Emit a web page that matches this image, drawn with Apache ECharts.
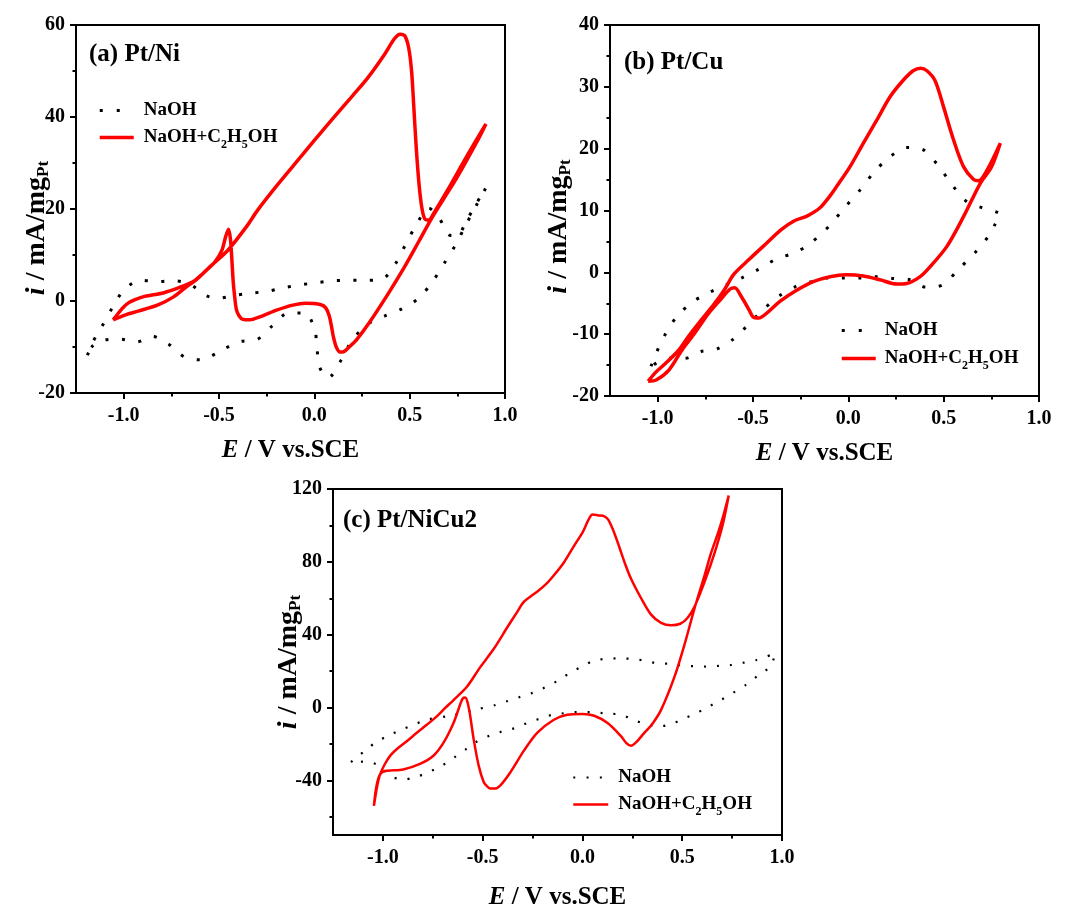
<!DOCTYPE html>
<html><head><meta charset="utf-8">
<script src="https://cdn.jsdelivr.net/npm/echarts@6/dist/echarts.min.js"></script>
<style>html,body{margin:0;padding:0;background:#fff}#c{width:1071px;height:911px}</style>
</head><body><div id="c"></div>
<script>
// ---------- tick values ----------
const xMajor = [-1, -0.5, 0, 0.5, 1];
const xMinor = [-0.75, -0.25, 0.25, 0.75];
const yMajorA = [-20, 0, 20, 40, 60];
const yMinorA = [-10, 10, 30, 50];
const yMajorB = [-20, -10, 0, 10, 20, 30, 40];
const yMinorB = [-15, -5, 5, 15, 25, 35];
const yMajorC = [-40, 0, 40, 80, 120];
const yMinorC = [-60, -20, 20, 60, 100];
const seriesNames = ['NaOH', 'NaOH+C2H5OH'];
const panelTitles = ['(a) Pt/Ni', '(b) Pt/Cu', '(c) Pt/NiCu2'];

// ---------- (a) Pt/Ni ----------
const naohA = [[-1.19,-11.8],[-1.16,-8.8],[-1.115,-5.6],[-1.06,-1.5],[-0.995,2.6],[-0.907,4.5],[-0.823,4.2],[-0.738,4.4],[-0.654,3.7],[-0.569,1.2],[-0.502,0.6],[-0.42,1.2],[-0.333,1.7],[-0.248,2.1],[-0.16,2.9],[-0.075,3.5],[0.014,4.0],[0.098,4.4],[0.183,4.5],[0.271,4.5],[0.358,4.8],[0.424,8.0],[0.475,12],[0.53,16.2],[0.6,20.2],[0.658,17.8],[0.71,14.3],[0.75,14.2],[0.795,17.2],[0.85,21.2],[0.9,24.6],[0.85,20.8],[0.795,16.6],[0.742,12.3],[0.683,8.3],[0.62,4.2],[0.544,0.5],[0.459,-1.7],[0.373,-3.2],[0.285,-4.9],[0.2,-8.4],[0.144,-12.6],[0.073,-16.7],[0.03,-14.6],[0.014,-10.4],[0.002,-6.2],[-0.05,-2.6],[-0.135,-2.6],[-0.22,-5.4],[-0.302,-8.4],[-0.387,-8.8],[-0.473,-10.4],[-0.507,-11.2],[-0.591,-12.8],[-0.679,-12.2],[-0.764,-9.4],[-0.848,-7.7],[-0.932,-8.9],[-1.017,-8.3],[-1.105,-8.5],[-1.166,-9.9],[-1.19,-11.8]];
const ethA = [[-1.055,-4.1],[-0.99,-3.0],[-0.924,-2.2],[-0.823,-0.9],[-0.738,0.9],[-0.671,3.1],[-0.62,4.6],[-0.535,7.9],[-0.45,11.2],[-0.35,16.5],[-0.3,19.6],[-0.2,24.9],[-0.1,29.9],[0.0,34.9],[0.1,39.8],[0.2,44.6],[0.28,48.5],[0.368,53.6],[0.42,57],[0.45,58],[0.475,57.6],[0.495,55],[0.51,50],[0.522,42],[0.535,33],[0.55,25],[0.565,20],[0.58,17.8],[0.6,17.6],[0.625,19],[0.7,24.2],[0.8,31.5],[0.9,38.5],[0.86,35.2],[0.75,27],[0.68,22.3],[0.61,17.6],[0.55,13.1],[0.47,7.2],[0.386,1.5],[0.285,-4.9],[0.22,-8.5],[0.183,-10],[0.155,-11],[0.135,-11.1],[0.115,-10],[0.1,-7.8],[0.09,-5.5],[0.078,-3.2],[0.06,-1.5],[0.035,-0.8],[-0.046,-0.5],[-0.113,-0.9],[-0.198,-2],[-0.282,-3.4],[-0.34,-4.1],[-0.375,-4],[-0.395,-3.2],[-0.409,-1.8],[-0.418,1],[-0.426,4.5],[-0.434,10],[-0.44,13.5],[-0.45,15.6],[-0.465,14],[-0.485,11],[-0.52,8.6],[-0.552,7.3],[-0.6,5.4],[-0.637,4.2],[-0.704,3.0],[-0.789,1.8],[-0.89,1.0],[-0.94,0.3],[-0.975,-0.4],[-1.005,-1.5],[-1.025,-2.5],[-1.055,-4.1]];

// ---------- (b) Pt/Cu ----------
const naohB = [[-1.035,-15.2],[-1.008,-13.1],[-0.96,-10.0],[-0.896,-7.0],[-0.812,-4.7],[-0.727,-3.2],[-0.639,-2.0],[-0.556,-0.85],[-0.47,0.5],[-0.382,2.1],[-0.298,3.0],[-0.214,4.3],[-0.131,6.6],[-0.1,7.5],[-0.021,10.4],[0.061,13.3],[0.135,16.2],[0.219,18.7],[0.306,20.2],[0.394,19.8],[0.473,17.2],[0.543,14.2],[0.622,11.4],[0.706,10.4],[0.797,9.3],[0.77,7.8],[0.741,6.1],[0.665,3.2],[0.578,0.5],[0.496,-2.0],[0.408,-2.4],[0.324,-1.2],[0.236,-1.0],[0.149,-0.7],[0.07,-0.9],[-0.018,-0.9],[-0.105,-0.9],[-0.193,-1.5],[-0.277,-2.3],[-0.362,-3.8],[-0.445,-6.0],[-0.532,-8.7],[-0.603,-10.8],[-0.689,-12.4],[-0.773,-12.8],[-0.857,-13.9],[-0.941,-13.9],[-1.035,-15.2]];
const ethB = [[-1.05,-17.6],[-1.008,-16.1],[-0.958,-14.7],[-0.89,-12.6],[-0.839,-10.4],[-0.771,-7.7],[-0.703,-5.1],[-0.65,-2.8],[-0.6,-0.3],[-0.52,2.1],[-0.436,4.5],[-0.352,6.9],[-0.285,8.3],[-0.217,9.1],[-0.15,10.4],[-0.1,12.2],[-0.061,13.9],[0.009,17.1],[0.079,20.9],[0.149,24.6],[0.219,28.4],[0.289,31.1],[0.34,32.6],[0.38,33],[0.412,32.6],[0.455,31],[0.499,26.8],[0.552,21.4],[0.604,17.1],[0.657,15],[0.683,14.8],[0.727,16.5],[0.797,20.9],[0.75,17],[0.692,14.4],[0.604,9.0],[0.517,4.2],[0.429,0.9],[0.377,-0.7],[0.306,-1.8],[0.254,-1.9],[0.166,-1.2],[0.079,-0.6],[-0.009,-0.4],[-0.096,-0.7],[-0.184,-1.5],[-0.271,-2.9],[-0.359,-4.7],[-0.42,-6.4],[-0.47,-7.4],[-0.5,-7.2],[-0.52,-6.1],[-0.56,-4],[-0.596,-2.5],[-0.62,-2.7],[-0.67,-4.4],[-0.737,-6.8],[-0.805,-9.8],[-0.873,-12.6],[-0.941,-15.8],[-1.008,-17.4],[-1.05,-17.6]];

// ---------- (c) Pt/NiCu2 ----------
const naohC = [[-1.16,-30],[-1.091,-23.8],[-1.032,-18.9],[-0.97,-15.3],[-0.906,-12.1],[-0.844,-9.4],[-0.78,-6.7],[-0.663,-4.5],[-0.542,-1.3],[-0.436,1.4],[-0.374,3.6],[-0.31,5.9],[-0.248,8.1],[-0.185,11.2],[-0.122,14.8],[-0.064,18.9],[0,22.7],[0.059,25.8],[0.122,26.7],[0.185,27],[0.248,26.7],[0.31,25.8],[0.374,24.3],[0.436,24],[0.498,23.1],[0.562,22.7],[0.624,22.5],[0.688,22.9],[0.747,23.4],[0.81,24.7],[0.872,26.1],[0.965,29.7],[0.943,22.7],[0.881,17.7],[0.817,12.3],[0.755,8.1],[0.693,4.1],[0.633,0.5],[0.57,-3.1],[0.508,-6.1],[0.445,-9],[0.377,-10.5],[0.324,-9.4],[0.26,-7],[0.196,-4],[0.143,-3.4],[0.106,-3.1],[0.042,-2.5],[-0.025,-2.5],[-0.089,-3.1],[-0.151,-4],[-0.213,-6.1],[-0.277,-8.5],[-0.336,-11.2],[-0.399,-13],[-0.461,-15.3],[-0.525,-18.4],[-0.584,-22.9],[-0.646,-27.7],[-0.71,-32.3],[-0.772,-35.5],[-0.836,-38.2],[-0.898,-39.5],[-0.961,-37.7],[-1.02,-31.9],[-1.082,-29.7],[-1.16,-30]];
const ethC = [[-1.045,-54],[-1.03,-44],[-1.015,-37],[-0.99,-31],[-0.96,-26],[-0.931,-22.9],[-0.88,-18.5],[-0.83,-13.9],[-0.78,-9.5],[-0.73,-4.9],[-0.69,-0.5],[-0.646,4.1],[-0.579,11.4],[-0.512,22.2],[-0.445,32.1],[-0.378,43.8],[-0.33,52],[-0.294,58],[-0.26,61],[-0.227,63.6],[-0.18,68],[-0.143,72.6],[-0.092,79.8],[-0.042,88.8],[0,96],[0.03,103],[0.05,106],[0.08,105.5],[0.11,105],[0.13,103],[0.159,96],[0.185,88],[0.21,80],[0.243,70.8],[0.294,60],[0.344,51],[0.394,46.5],[0.445,45.2],[0.49,46],[0.525,49],[0.562,55.5],[0.612,69],[0.663,85.2],[0.705,101.4],[0.733,116.4],[0.7,103],[0.68,96],[0.645,85],[0.612,72.6],[0.562,54.6],[0.512,34.8],[0.461,16.8],[0.394,-1.3],[0.35,-9],[0.31,-13.9],[0.27,-19],[0.243,-21],[0.22,-19.5],[0.193,-15.7],[0.126,-8.5],[0.059,-4.5],[0,-3.6],[-0.076,-4],[-0.143,-6.7],[-0.227,-13.9],[-0.294,-23.8],[-0.361,-35.5],[-0.411,-42.7],[-0.44,-44.5],[-0.461,-44.5],[-0.48,-43],[-0.495,-40.9],[-0.52,-31.9],[-0.545,-17.5],[-0.562,-4.9],[-0.575,2.5],[-0.587,5.5],[-0.6,5],[-0.615,1],[-0.646,-8.5],[-0.696,-19.3],[-0.747,-26.5],[-0.814,-31],[-0.898,-34],[-0.998,-35.1],[-1.02,-38],[-1.035,-45],[-1.045,-54]];

// ---------- layout / style ----------
const FONT = '"Liberation Serif", "Times New Roman", serif';
const panels = [
  {grid:{left:76, top:25, width:429, height:368}, y:[-20,60], yMaj:yMajorA, yMin:yMinorA,
   naoh:naohA, eth:ethA, dot:[3,13.5], dotW:3, redW:3.5, yGap:24, yShift:38, xGap:45,
   title:{left:89, top:42}, legend:{left:98, top:101, gap:8, w:34, dash:[3,14], pad:5}},
  {grid:{left:610, top:25, width:429, height:371}, y:[-20,40], yMaj:yMajorB, yMin:yMinorB,
   naoh:naohB, eth:ethB, dot:[3,13.5], dotW:3, redW:3.5, yGap:36, yShift:32, xGap:45,
   title:{left:624, top:50}, legend:{left:840, top:321, gap:9, w:34, dash:[3,14], pad:4}},
  {grid:{left:333, top:489, width:449, height:351}, y:[-70,120], yMaj:yMajorC, yMin:yMinorC,
   naoh:naohC, eth:ethC, dot:[2,11], dotW:2.2, redW:2.5, yGap:29, yShift:0, xGap:50,
   title:{left:343, top:508}, legend:{left:572, top:768, gap:8, w:35, dash:[2,11.3], pad:5}}
];

const labelStyle = {color:'#000', fontFamily:FONT, fontWeight:'bold', fontSize:20};
const lineBlack = {color:'#000', width:2};
const hiddenSymbol = {color:'rgba(0,0,0,0)', borderColor:'rgba(0,0,0,0)', borderWidth:0, opacity:0};
const grid = [], xAxis = [], yAxis = [], series = [], legend = [], title = [];

panels.forEach((p, i) => {
  grid.push(Object.assign({show:true, borderColor:'#000', borderWidth:2, backgroundColor:'transparent'}, p.grid));
  // major x
  xAxis.push({type:'value', gridIndex:i, min:-1.25, max:1.0, position:'bottom',
    axisLine:{show:true, onZero:false, lineStyle:lineBlack},
    axisTick:{show:true, customValues:xMajor, length:6, lineStyle:lineBlack},
    axisLabel:Object.assign({customValues:xMajor, margin:13, formatter:v => v.toFixed(1)}, labelStyle),
    splitLine:{show:false},
    name:'{e|E} / V vs.SCE', nameLocation:'middle', nameGap:p.xGap, nameMoveOverlap:false,
    nameTextStyle:{color:'#000', fontFamily:FONT, fontWeight:'bold', fontSize:25,
      rich:{e:{fontFamily:FONT, fontWeight:'bold', fontStyle:'italic', fontSize:25, color:'#000'}}}
  });
  // minor x
  xAxis.push({type:'value', gridIndex:i, min:-1.25, max:1.0, position:'bottom',
    axisLine:{show:false, onZero:false}, axisLabel:{show:false}, splitLine:{show:false},
    axisTick:{show:true, customValues:xMinor, length:3.5, lineStyle:lineBlack}});
  // major y
  yAxis.push({type:'value', gridIndex:i, min:p.y[0], max:p.y[1], position:'left',
    axisLine:{show:true, onZero:false, lineStyle:lineBlack},
    axisTick:{show:true, customValues:p.yMaj, length:6, lineStyle:lineBlack},
    axisLabel:Object.assign({customValues:p.yMaj, margin:11}, labelStyle),
    splitLine:{show:false},
    name:'{i|i} / mA/mg{s|Pt}', nameLocation:'middle', nameGap:p.yGap, nameMoveOverlap:false,
    nameTextStyle:{color:'#000', fontFamily:FONT, fontWeight:'bold', fontSize:28,
      padding:[0, p.yShift, 0, 0],
      rich:{i:{fontFamily:FONT, fontWeight:'bold', fontStyle:'italic', fontSize:28, color:'#000'},
            s:{fontFamily:FONT, fontWeight:'bold', fontSize:17, color:'#000', padding:[14,0,0,0]}}}
  });
  // minor y
  yAxis.push({type:'value', gridIndex:i, min:p.y[0], max:p.y[1], position:'left',
    axisLine:{show:false, onZero:false}, axisLabel:{show:false}, splitLine:{show:false},
    axisTick:{show:true, customValues:p.yMin, length:3.5, lineStyle:lineBlack}});

  series.push({name:seriesNames[0], type:'line', xAxisIndex:2*i, yAxisIndex:2*i, data:p.naoh,
    showSymbol:false, symbol:'none', smooth:0.3, z:2,
    lineStyle:{color:'#000', width:p.dotW, type:p.dot, cap:'butt'}, itemStyle:{color:'#000'}});
  series.push({name:seriesNames[1], type:'line', xAxisIndex:2*i, yAxisIndex:2*i, data:p.eth,
    showSymbol:false, symbol:'none', smooth:0.3, z:3,
    lineStyle:{color:'#ff0000', width:p.redW}, itemStyle:{color:'#ff0000'}});

  title.push({text:panelTitles[i], left:p.title.left, top:p.title.top, padding:0,
    textStyle:{color:'#000', fontFamily:FONT, fontWeight:'bold', fontSize:25}});

  legend.push({orient:'vertical', left:p.legend.left, top:p.legend.top, padding:0,
    itemWidth:p.legend.w, itemHeight:14, itemGap:p.legend.gap, selectedMode:false,
    itemStyle:hiddenSymbol,
    data:[{name:seriesNames[0], itemStyle:hiddenSymbol, lineStyle:{type:p.legend.dash, width:p.dotW, color:'#000'}},
          {name:seriesNames[1], itemStyle:hiddenSymbol, lineStyle:{width:p.redW, color:'#ff0000'}}],
    formatter: n => n === 'NaOH' ? 'NaOH' : 'NaOH+C{s|2}H{s|5}OH',
    textStyle:{color:'#000', fontFamily:FONT, fontWeight:'bold', fontSize:19, padding:[0,0,0,p.legend.pad],
      rich:{s:{fontFamily:FONT, fontWeight:'bold', fontSize:12, color:'#000', padding:[14,0,0,0]}}}
  });
});

const chart = echarts.init(document.getElementById('c'), null, {renderer:'canvas'});
chart.setOption({animation:false, backgroundColor:'#fff', title, grid, xAxis, yAxis, legend, series});
</script></body></html>
